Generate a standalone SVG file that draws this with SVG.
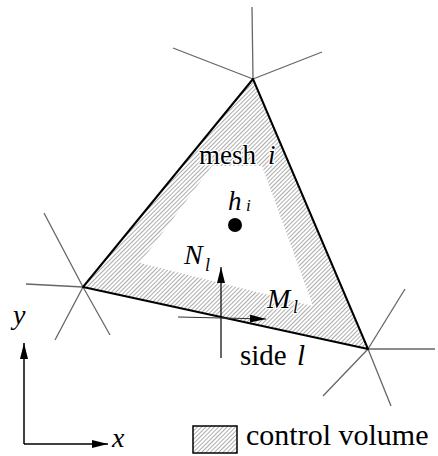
<svg xmlns="http://www.w3.org/2000/svg" width="438" height="456" viewBox="0 0 438 456">
<style>
text{font-family:'Liberation Serif','Times New Roman',Tinos,'DejaVu Serif',serif;fill:#000}
.it{font-style:italic}
.nb{stroke:#666;stroke-width:1.3;fill:none}
.edge{stroke:#000;stroke-width:2;fill:none;stroke-linejoin:round}
.halo{paint-order:stroke;stroke:#fff;stroke-width:2.5;stroke-linejoin:round}
</style>
<defs>
<pattern id="hatch" width="3" height="3" patternUnits="userSpaceOnUse" patternTransform="rotate(45)">
<line x1="0" y1="0" x2="0" y2="3" stroke="#5a5a5a" stroke-width="1"/>
</pattern>
<marker id="ah" markerWidth="16" markerHeight="8" refX="16" refY="4" orient="auto" markerUnits="userSpaceOnUse">
<path d="M0,0 L16,4 L0,8 Z" fill="#000"/>
</marker>
</defs>
<rect width="438" height="456" fill="#fff"/>
<g id="neighbors">
<line class="nb" x1="253" y1="79" x2="252" y2="7"/>
<line class="nb" x1="253" y1="79" x2="173" y2="48"/>
<line class="nb" x1="253" y1="79" x2="322" y2="52"/>
<line class="nb" x1="83" y1="287" x2="26" y2="284"/>
<line class="nb" x1="83" y1="287" x2="44" y2="213"/>
<line class="nb" x1="83" y1="287" x2="55" y2="340"/>
<line class="nb" x1="83" y1="287" x2="110" y2="335"/>
<line class="nb" x1="368" y1="349" x2="435" y2="349"/>
<line class="nb" x1="368" y1="349" x2="405" y2="289"/>
<line class="nb" x1="368" y1="349" x2="323" y2="396"/>
<line class="nb" x1="368" y1="349" x2="391" y2="406"/>
</g>
<g id="mesh-i">
<path d="M253,79 L83,287 L368,349 Z M212,166 L140,263 L313,306 L262,166 Z" fill="url(#hatch)" fill-rule="evenodd"/>
<path class="edge" d="M253,79 L83,287 L368,349 Z"/>
<text class="halo" x="199" y="164" font-size="27" font-family="Liberation Serif, serif">mesh</text>
<text class="it halo" x="268" y="164" font-size="27" font-family="Liberation Serif, serif">i</text>
</g>
<g id="h-i">
<circle cx="235" cy="225" r="7" fill="#000"/>
<text class="it" x="228" y="210" font-size="27" font-family="Liberation Serif, serif">h</text>
<text class="it" x="246" y="211" font-size="17" font-family="Liberation Serif, serif">i</text>
</g>
<g id="connectors">
<line x1="221" y1="358" x2="221" y2="267" stroke="#000" stroke-width="1.2" marker-end="url(#ah)"/>
<line x1="178" y1="317" x2="266" y2="319" stroke="#333" stroke-width="1.2" marker-end="url(#ah)"/>
<line x1="24" y1="444" x2="24" y2="343" stroke="#000" stroke-width="1.5" marker-end="url(#ah)"/>
<line x1="24" y1="444" x2="108" y2="444" stroke="#000" stroke-width="1.5" marker-end="url(#ah)"/>
</g>
<g id="labels">
<text class="it" x="184" y="264" font-size="28" font-family="Liberation Serif, serif">N</text>
<text class="it" x="205" y="271" font-size="18" font-family="Liberation Serif, serif">l</text>
<text class="it halo" x="267" y="308" font-size="28" font-family="Liberation Serif, serif">M</text>
<text class="it halo" x="293" y="313" font-size="18" font-family="Liberation Serif, serif">l</text>
<text x="240" y="365" font-size="29" font-family="Liberation Serif, serif">side</text>
<text class="it" x="297" y="365" font-size="29" font-family="Liberation Serif, serif">l</text>
<text class="it" x="13" y="324" font-size="28" font-family="Liberation Serif, serif">y</text>
<text class="it" x="112" y="447" font-size="28" font-family="Liberation Serif, serif">x</text>
</g>
<g id="legend">
<rect x="193" y="426" width="44" height="27" fill="url(#hatch)" stroke="#000" stroke-width="1.5"/>
<text x="246" y="445" font-size="30" font-family="Liberation Serif, serif">control volume</text>
</g>
</svg>
